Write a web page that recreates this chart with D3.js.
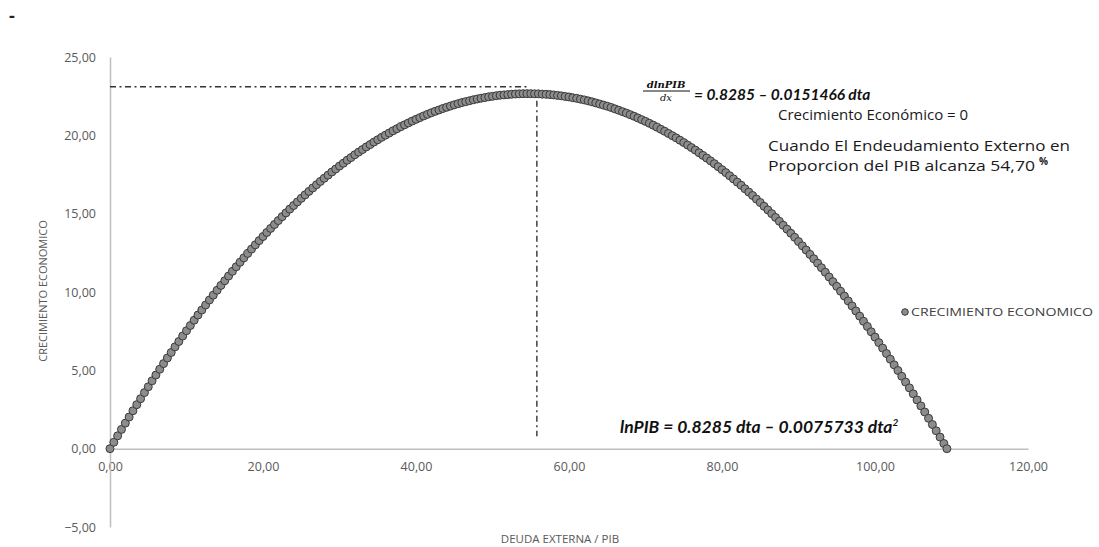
<!DOCTYPE html>
<html><head><meta charset="utf-8">
<script src="https://cdn.jsdelivr.net/npm/d3@7"></script>
<style>body{margin:0;background:#fff}svg{display:block}</style>
</head><body><svg id="c" width="1099" height="547"></svg>
<script>
// ---- data ----
const deuda = [0,0.5,1,1.5,2,2.5,3,3.5,4,4.5,5,5.5,6,6.5,7,7.5,8,8.5,9,9.5,10,10.5,11,11.5,12,12.5,13,13.5,14,14.5,15,15.5,16,16.5,17,17.5,18,18.5,19,19.5,20,20.5,21,21.5,22,22.5,23,23.5,24,24.5,25,25.5,26,26.5,27,27.5,28,28.5,29,29.5,30,30.5,31,31.5,32,32.5,33,33.5,34,34.5,35,
35.5,36,36.5,37,37.5,38,38.5,39,39.5,40,40.5,41,41.5,42,42.5,43,43.5,44,44.5,45,45.5,46,46.5,47,47.5,48,48.5,49,49.5,50,50.5,51,51.5,52,52.5,53,53.5,54,54.5,55,55.5,56,56.5,57,57.5,58,58.5,59,59.5,60,60.5,61,61.5,62,62.5,63,63.5,64,64.5,65,65.5,66,66.5,67,67.5,68,68.5,69,69.5,70,70.5,71,71.5,72,72.5,73,73.5,74,74.5,75,
75.5,76,76.5,77,77.5,78,78.5,79,79.5,80,80.5,81,81.5,82,82.5,83,83.5,84,84.5,85,85.5,86,86.5,87,87.5,88,88.5,89,89.5,90,90.5,91,91.5,92,92.5,93,93.5,94,94.5,95,95.5,96,96.5,97,97.5,98,98.5,99,99.5,100,100.5,101,101.5,102,102.5,103,103.5,104,104.5,105,105.5,106,106.5,107,107.5,108,108.5,109,109.4];
const crecimiento = [0,0.41,0.82,1.23,1.63,2.02,2.42,2.81,3.19,3.58,3.95,4.33,4.70,5.07,5.43,5.79,6.14,6.50,6.84,7.19,7.53,7.86,8.20,8.53,8.85,9.17,9.49,9.80,10.11,10.42,10.72,11.02,11.32,11.61,11.90,12.18,12.46,12.74,13.01,13.28,13.54,13.80,14.06,14.31,14.56,14.81,15.05,15.29,15.52,15.75,15.98,16.20,16.42,16.64,16.85,17.06,17.26,17.46,17.66,17.85,18.04,18.22,18.41,18.58,18.76,18.93,19.09,19.26,19.41,19.57,19.72,
19.87,20.01,20.15,20.29,20.42,20.55,20.67,20.79,20.91,21.02,21.13,21.24,21.34,21.44,21.53,21.62,21.71,21.79,21.87,21.95,22.02,22.09,22.15,22.21,22.27,22.32,22.37,22.41,22.46,22.49,22.53,22.56,22.58,22.60,22.62,22.64,22.65,22.66,22.66,22.66,22.65,22.65,22.63,22.62,22.60,22.58,22.55,22.52,22.48,22.45,22.40,22.36,22.31,22.26,22.20,22.14,22.07,22.00,21.93,21.86,21.78,21.69,21.60,21.51,21.42,21.32,21.22,21.11,21.00,20.89,20.77,20.65,20.52,20.39,20.26,20.12,19.98,19.84,19.69,19.54,
19.38,19.22,19.06,18.89,18.72,18.55,18.37,18.19,18.00,17.81,17.62,17.42,17.22,17.01,16.81,16.59,16.38,16.16,15.93,15.71,15.47,15.24,15.00,14.76,14.51,14.26,14.01,13.75,13.49,13.22,12.95,12.68,12.40,12.12,11.84,11.55,11.26,10.96,10.66,10.36,10.05,9.74,9.43,9.11,8.79,8.46,8.13,7.80,7.46,7.12,6.77,6.42,6.07,5.71,5.35,4.99,4.62,4.25,3.88,3.50,3.11,2.73,2.34,1.94,1.54,1.14,0.74,0.33,0.00];
const xTicks = [0,20,40,60,80,100,120];
const yTicks = [-5,0,5,10,15,20,25];
const seriesName = "CRECIMIENTO ECONOMICO";
const xTitle = "DEUDA EXTERNA / PIB";
const yTitle = "CRECIMIENTO ECONOMICO";
// reference (dash-dot) lines, in data units
const hLine = {y: 23.1, x0: 0, x1: 54.5};
const vLine = {x: 55.8, y0: 22.2, y1: 0.8};

// ---- chart ----
const svg = d3.select("#c");
svg.append("rect").attr("width",1099).attr("height",547).attr("fill","#fff");
const x = d3.scaleLinear().domain([0,120]).range([110,1028]);
const y = d3.scaleLinear().domain([-5,25]).range([527,57]);
const loc = d3.formatLocale({decimal:",",thousands:".",grouping:[3],currency:["",""]});
const fmt = loc.format(".2f");
const axisColor = "#bfbfbf", labelColor = "#595959";
const tickFont = "'Open Sans', sans-serif";

// stray dash top-left
svg.append("text").attr("x",9).attr("y",22).attr("font-family","'Open Sans',sans-serif")
  .attr("font-size",18).attr("font-weight","bold").attr("fill","#222").text("-");

// axes
const gx = svg.append("g").attr("transform",`translate(0,${y(0)})`)
  .call(d3.axisBottom(x).tickValues(xTicks).tickFormat(fmt).tickSize(0).tickPadding(13));
const gy = svg.append("g").attr("transform",`translate(${x(0)},0)`)
  .call(d3.axisLeft(y).tickValues(yTicks).tickFormat(fmt).tickSize(0).tickPadding(14));
[gx,gy].forEach(g=>{
  g.select(".domain").attr("stroke",axisColor).attr("stroke-width",1.5);
  g.selectAll("text").attr("fill",labelColor).attr("font-family",tickFont).attr("font-size",12.5);
});

// reference lines
const refStyle = s => s.attr("stroke","#333").attr("stroke-width",1.4).attr("stroke-dasharray","6,3.5,2,3.5").attr("fill","none");
svg.append("line").attr("x1",x(hLine.x0)).attr("x2",x(hLine.x1)).attr("y1",y(hLine.y)).attr("y2",y(hLine.y)).call(refStyle);
svg.append("line").attr("x1",x(vLine.x)).attr("x2",x(vLine.x)).attr("y1",y(vLine.y0)).attr("y2",y(vLine.y1)).call(refStyle);

// points
const pts = deuda.map((d,i)=>({x:d,y:crecimiento[i]}));
svg.append("g").selectAll("circle").data(pts).join("circle")
  .attr("cx",d=>x(d.x)).attr("cy",d=>y(d.y)).attr("r",4)
  .attr("fill","#8c8c8c").attr("stroke","#3a3a3a").attr("stroke-width",1);

// axis titles
svg.append("text").attr("x",560).attr("y",543).attr("text-anchor","middle")
  .attr("font-family",tickFont).attr("font-size",11.5).attr("fill",labelColor).text(xTitle);
svg.append("text").attr("transform","translate(47,291) rotate(-90)").attr("text-anchor","middle")
  .attr("font-family",tickFont).attr("font-size",11).attr("fill",labelColor).text(yTitle);

// legend
svg.append("circle").attr("cx",905).attr("cy",312).attr("r",3.3).attr("fill","#8c8c8c").attr("stroke","#3a3a3a");
svg.append("text").attr("x",911).attr("y",316).attr("font-family",tickFont).attr("font-size",11)
  .attr("fill","#404040").attr("textLength",182).attr("lengthAdjust","spacingAndGlyphs").text(seriesName);

// annotations
const serif = "'DejaVu Serif', serif";
svg.append("text").attr("x",666).attr("y",88).attr("text-anchor","middle").attr("font-family",serif)
  .attr("font-style","italic").attr("font-weight","bold").attr("font-size",10).attr("fill","#111").text("dlnPIB");
svg.append("line").attr("x1",643).attr("x2",690).attr("y1",91).attr("y2",91).attr("stroke","#111").attr("stroke-width",1);
svg.append("text").attr("x",666).attr("y",101).attr("text-anchor","middle").attr("font-family",serif)
  .attr("font-style","italic").attr("font-size",10).attr("fill","#111").text("dx");
const eqFont = "Lato, 'Open Sans', sans-serif";
svg.append("text").attr("x",694).attr("y",100).attr("font-family",eqFont).attr("font-style","italic")
  .attr("font-weight","bold").attr("font-size",15.5).attr("fill","#111").text("= 0.8285  – 0.0151466 dta");
const bodyFont = "'Open Sans', sans-serif";
svg.append("text").attr("x",778).attr("y",120).attr("font-family",bodyFont).attr("font-size",15).attr("fill","#1a1a1a")
  .text("Crecimiento Económico = 0");
svg.append("text").attr("x",768).attr("y",151).attr("font-family",bodyFont).attr("font-size",15).attr("fill","#1a1a1a")
  .attr("textLength",302).attr("lengthAdjust","spacingAndGlyphs").text("Cuando El Endeudamiento Externo en");
svg.append("text").attr("x",768).attr("y",171).attr("font-family",bodyFont).attr("font-size",15).attr("fill","#1a1a1a")
  .attr("textLength",267).attr("lengthAdjust","spacingAndGlyphs").text("Proporcion del PIB alcanza 54,70");
svg.append("text").attr("x",1039).attr("y",165).attr("font-family",bodyFont).attr("font-size",10)
  .attr("font-weight","bold").attr("fill","#1a1a1a").text("%");
const l4 = svg.append("text").attr("x",620).attr("y",433).attr("font-family",eqFont).attr("font-style","italic")
  .attr("font-weight","bold").attr("font-size",17.5).attr("fill","#111");
l4.append("tspan").text("lnPIB = 0.8285 dta – 0.0075733 dta");
l4.append("tspan").attr("dy",-7).attr("font-size",10).text("2");
</script></body></html>
